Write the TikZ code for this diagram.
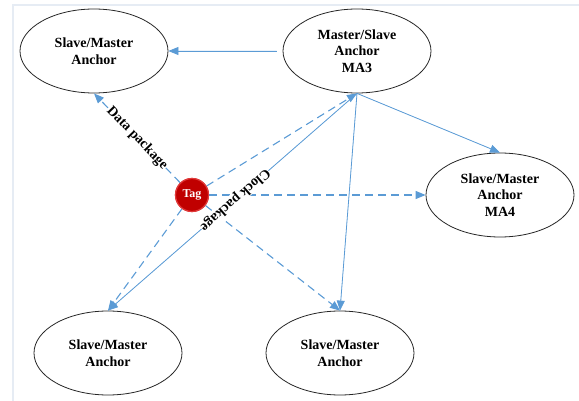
\documentclass[tikz,border=0pt]{standalone}
\usepackage{fontspec}
\setmainfont{Liberation Serif}
\usetikzlibrary{shapes.geometric,arrows.meta}
\definecolor{lineblue}{HTML}{5B9BD5}
\definecolor{tagred}{HTML}{C00000}
\definecolor{tagedge}{HTML}{E03A3A}
\definecolor{framegray}{HTML}{E6ECF4}
\tikzset{
  anchorbox/.style={ellipse, draw=black!85, line width=0.8pt, fill=white,
    minimum width=148pt, minimum height=84pt, inner sep=0pt, align=center,
    font=\fontsize{14}{16.5}\selectfont\bfseries},
  tagnode/.style={circle, fill=tagred, draw=tagedge, line width=1.2pt,
    minimum size=33pt, inner sep=0pt, text=white, font=\fontsize{12}{14}\selectfont\bfseries},
  solidarrow/.style={draw=lineblue, line width=0.8pt,
    -{Triangle[length=10pt,width=8pt]}, fill=lineblue},
  dasharrow/.style={draw=lineblue, line width=1.1pt, dash pattern=on 8pt off 5pt,
    -{Triangle[length=10pt,width=8pt]}},
  pathlabel/.style={font=\fontsize{14}{16}\selectfont\bfseries, fill=white,
    inner sep=0.5pt, sloped},
}
\begin{document}
\begin{tikzpicture}[x=1pt,y=-1pt]
\useasboundingbox (0,0) rectangle (579,401);
\draw[framegray, line width=2pt] (13,420) -- (13,5) -- (600,5);
\node[anchorbox] (TL) at (94,51) {Slave/Master\\Anchor};
\node[anchorbox] (MA3) at (357,51) {Master/Slave\\Anchor\\MA3};
\node[anchorbox] (MA4) at (500,195) {Slave/Master\\Anchor\\MA4};
\node[anchorbox] (BL) at (108,353) {Slave/Master\\Anchor};
\node[anchorbox] (BM) at (340,353) {Slave/Master\\Anchor};
\node[tagnode] (Tag) at (192,195) {Tag};

\draw[solidarrow, shorten <=6pt] (MA3.west) -- (TL.east);
\draw[solidarrow] (MA3.south) -- (MA4.north);
\draw[solidarrow] (MA3.south) -- (BM.north);
\draw[dasharrow] (Tag) -- (MA3.south);
\draw[dasharrow] (Tag) -- (MA4.west);
\draw[dasharrow] (Tag) -- (BL.north);
\draw[dasharrow] (Tag) -- (BM.north);
\draw[dasharrow] (Tag) -- node[pathlabel, pos=0.5] {Data package} (TL.south);
\draw[solidarrow] (MA3.south) -- node[pathlabel, allow upside down, pos=0.49] {Clock package} (BL.north);
\node[tagnode] at (Tag) {Tag};
\end{tikzpicture}
\end{document}
